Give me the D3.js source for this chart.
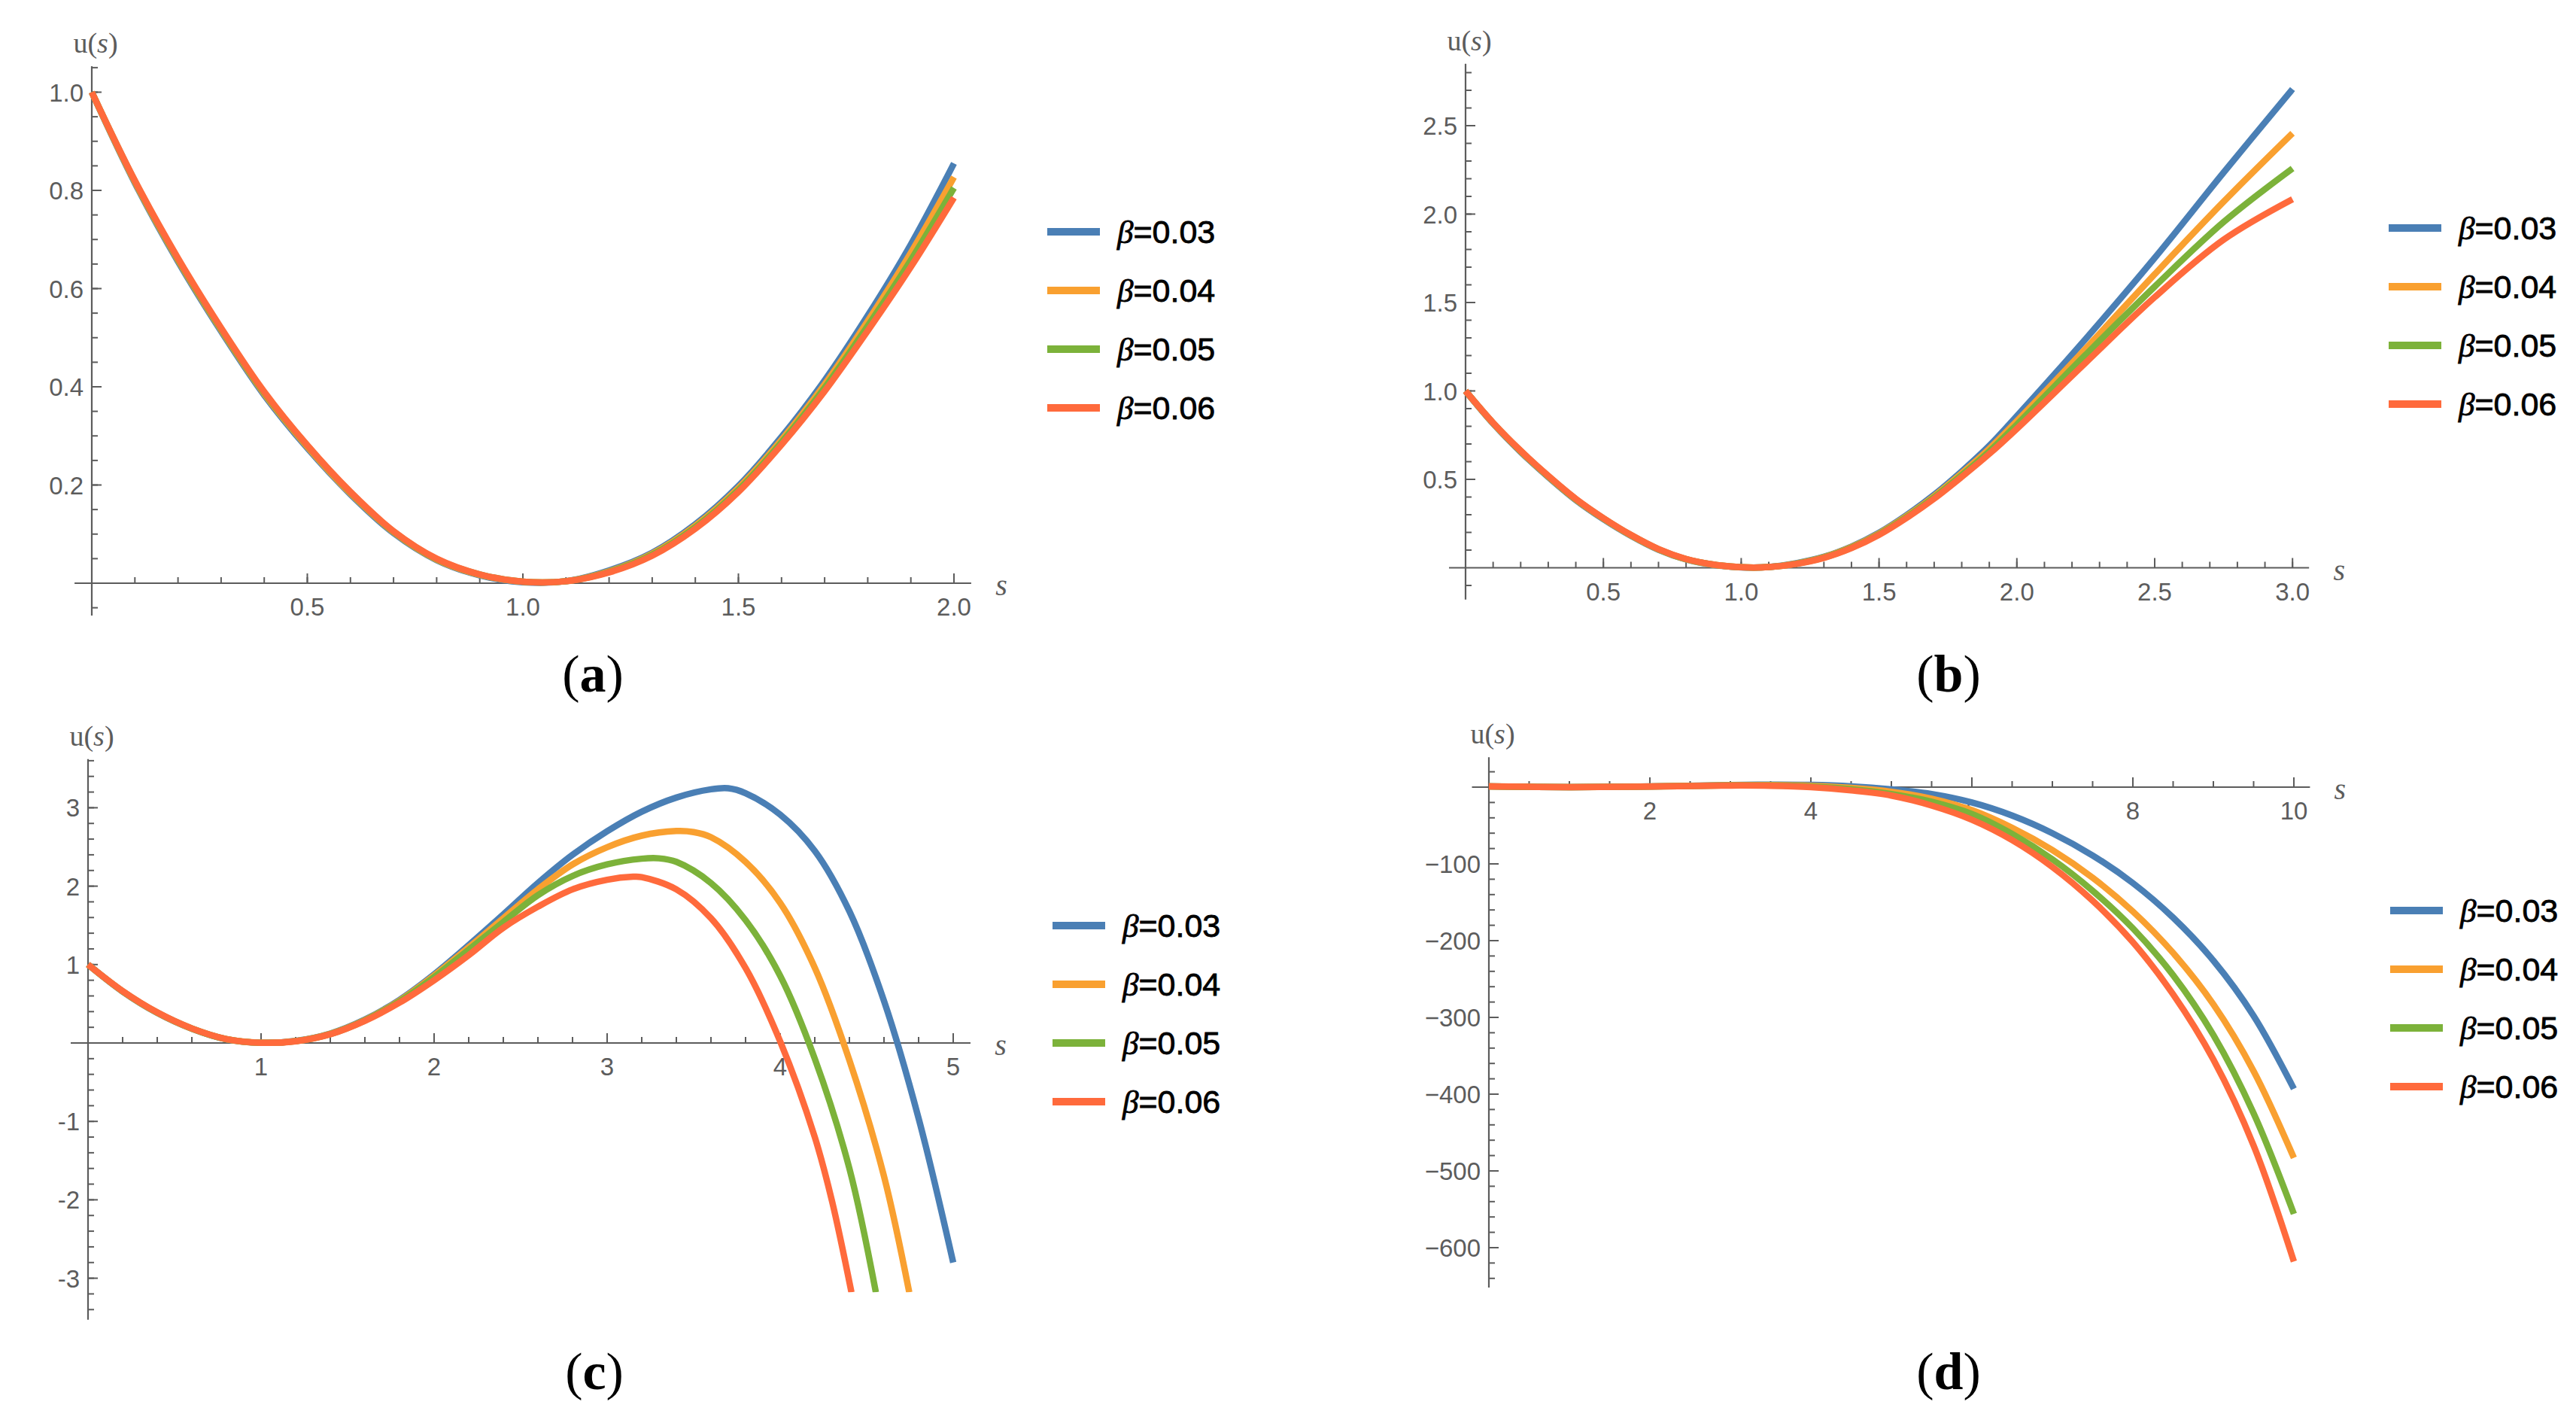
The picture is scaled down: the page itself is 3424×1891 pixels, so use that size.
<!DOCTYPE html>
<html>
<head>
<meta charset="utf-8">
<script src="https://cdn.jsdelivr.net/npm/d3@7"></script>
<style>
  body { margin: 0; background: #fff; }
  svg { display: block; }
</style>
</head>
<body>
<script>
// legend entries and colours (blue, orange, green, red)
var betas = ['0.03', '0.04', '0.05', '0.06'];
var colors = ['#4a7fb5', '#f9a030', '#7cb23a', '#ff6a3c'];

// ---- panel (a), s from 0 to 2
var sA = [0, 0.1, 0.2, 0.3, 0.4, 0.5, 0.6, 0.7, 0.8, 0.9, 1.0, 1.1, 1.2, 1.3, 1.4, 1.5, 1.6, 1.7, 1.8, 1.9, 2.0];
var aBlue   = [1.0, 0.815, 0.655, 0.513, 0.383, 0.275, 0.181, 0.102, 0.047, 0.016, 0.002, 0.004, 0.026, 0.062, 0.120, 0.198, 0.298, 0.413, 0.545, 0.690, 0.855];
var aOrange = [1.0, 0.817, 0.658, 0.516, 0.386, 0.278, 0.183, 0.104, 0.048, 0.017, 0.003, 0.004, 0.024, 0.060, 0.117, 0.194, 0.292, 0.405, 0.534, 0.673, 0.827];
var aGreen  = [1.0, 0.819, 0.660, 0.518, 0.388, 0.280, 0.185, 0.105, 0.049, 0.018, 0.003, 0.004, 0.023, 0.058, 0.114, 0.190, 0.287, 0.398, 0.524, 0.658, 0.805];
var aRed    = [1.0, 0.820, 0.662, 0.520, 0.390, 0.281, 0.186, 0.106, 0.050, 0.018, 0.003, 0.004, 0.022, 0.056, 0.111, 0.186, 0.282, 0.391, 0.514, 0.644, 0.785];
var aTicksX = [0.5, 1.0, 1.5, 2.0];
var aTicksY = [0.2, 0.4, 0.6, 0.8, 1.0];

// ---- panel (b), s from 0 to 3
var sB = [0, 0.1, 0.2, 0.3, 0.4, 0.5, 0.6, 0.7, 0.8, 0.9, 1.0, 1.1, 1.2, 1.3, 1.4, 1.5, 1.6, 1.7, 1.8, 1.9, 2.0, 2.25, 2.5, 2.75, 3.0];
var bBlue   = [1.0, 0.815, 0.655, 0.513, 0.383, 0.275, 0.181, 0.102, 0.047, 0.016, 0.002, 0.004, 0.026, 0.062, 0.120, 0.198, 0.298, 0.413, 0.545, 0.690, 0.858, 1.295, 1.752, 2.235, 2.707];
var bOrange = [1.0, 0.817, 0.658, 0.516, 0.386, 0.278, 0.183, 0.104, 0.048, 0.017, 0.003, 0.004, 0.024, 0.060, 0.117, 0.194, 0.292, 0.405, 0.534, 0.673, 0.830, 1.240, 1.660, 2.070, 2.457];
var bGreen  = [1.0, 0.819, 0.660, 0.518, 0.388, 0.280, 0.185, 0.105, 0.049, 0.018, 0.003, 0.004, 0.023, 0.058, 0.114, 0.190, 0.287, 0.398, 0.524, 0.658, 0.810, 1.205, 1.590, 1.955, 2.258];
var bRed    = [1.0, 0.820, 0.662, 0.520, 0.390, 0.281, 0.186, 0.106, 0.050, 0.018, 0.003, 0.004, 0.022, 0.056, 0.111, 0.186, 0.282, 0.391, 0.514, 0.644, 0.786, 1.160, 1.530, 1.855, 2.084];
var bTicksX = [0.5, 1.0, 1.5, 2.0, 2.5, 3.0];
var bTicksY = [0.5, 1.0, 1.5, 2.0, 2.5];

// ---- panel (c), [s, u]; the lower three stop where the plot range cuts them
var cBlue = [[0,1],[0.2,0.655],[0.4,0.383],[0.6,0.181],[0.8,0.047],[1.0,0.002],[1.2,0.026],[1.4,0.12],[1.6,0.298],[1.8,0.55],
  [2.0,0.875],[2.2,1.249],[2.4,1.64],[2.6,2.04],[2.8,2.40],[3.0,2.70],[3.2,2.95],[3.4,3.13],[3.6,3.235],[3.7,3.248],
  [3.8,3.185],[4.0,2.913],[4.2,2.45],[4.4,1.68],[4.6,0.536],[4.8,-0.96],[5.0,-2.8]];
var cOrange = [[0,1],[0.2,0.658],[0.4,0.386],[0.6,0.183],[0.8,0.048],[1.0,0.003],[1.2,0.024],[1.4,0.117],[1.6,0.292],[1.8,0.54],
  [2.0,0.86],[2.2,1.22],[2.4,1.591],[2.6,1.959],[2.8,2.277],[3.0,2.497],[3.2,2.644],[3.4,2.703],[3.5,2.69],[3.6,2.625],
  [3.8,2.31],[4.0,1.787],[4.2,0.96],[4.4,-0.22],[4.6,-1.7],[4.746,-3.18]];
var cGreen = [[0,1],[0.2,0.66],[0.4,0.388],[0.6,0.185],[0.8,0.049],[1.0,0.003],[1.2,0.023],[1.4,0.114],[1.6,0.287],[1.8,0.53],
  [2.0,0.84],[2.2,1.19],[2.4,1.542],[2.6,1.885],[2.8,2.13],[3.0,2.277],[3.2,2.35],[3.3,2.355],[3.4,2.31],[3.6,2.04],
  [3.8,1.567],[4.0,0.857],[4.2,-0.2],[4.4,-1.6],[4.553,-3.18]];
var cRed = [[0,1],[0.2,0.662],[0.4,0.39],[0.6,0.186],[0.8,0.05],[1.0,0.003],[1.2,0.022],[1.4,0.111],[1.6,0.282],[1.8,0.514],
  [2.0,0.8],[2.2,1.12],[2.4,1.469],[2.6,1.738],[2.8,1.959],[3.0,2.081],[3.15,2.12],[3.2,2.115],[3.4,1.959],[3.6,1.591],
  [3.8,0.955],[4.0,0.02],[4.2,-1.2],[4.3,-2.02],[4.412,-3.18]];
var cTicksX = [1, 2, 3, 4, 5];
var cTicksY = [-3, -2, -1, 1, 2, 3];

// ---- panel (d), s from 0 to 10
var sD = [0, 1, 2, 3, 3.5, 4, 4.5, 5, 5.5, 6, 6.5, 7, 7.5, 8, 8.5, 9, 9.5, 10];
var dBlue   = [1, 0, 0.88, 2.72, 3.2, 2.91, 1.1, -2.8, -9, -20, -37, -60, -89, -125, -170, -226, -298, -393];
var dOrange = [1, 0, 0.86, 2.5, 2.7, 1.79, -0.95, -6, -15, -30, -53, -82, -118, -162, -216, -283, -370, -483];
var dGreen  = [1, 0, 0.84, 2.28, 2.18, 0.86, -2.6, -9, -19, -35, -61, -94, -135, -184, -245, -323, -425, -556];
var dRed    = [1, 0, 0.8, 2.08, 1.8, 0.05, -4.3, -11, -24, -42.5, -69, -104, -148, -202, -270, -355, -467, -618];
var dTicksX = [2, 4, 6, 8, 10];
var dTicksY = [-600, -500, -400, -300, -200, -100];

function pairs(s, u) { return s.map(function (v, i) { return [v, u[i]]; }); }

var W = 3424, H = 1891;
var axisColor = '#5c5c5c';
var sans = '"Liberation Sans", Arial, sans-serif';
var serif = '"Liberation Serif", "Times New Roman", serif';

var panels = [
  { tag: 'a', series: [pairs(sA, aBlue), pairs(sA, aOrange), pairs(sA, aGreen), pairs(sA, aRed)],
    ox: 122, oy: 775, kx: 573, ky: 652.5, xExt: [-0.04, 2.04], yExt: [-0.066, 1.053],
    xTicks: aTicksX, xMinor: 0.1, yTicks: aTicksY, yMinor: 0.05,
    fx: d3.format('.1f'), fy: d3.format('.1f'), legend: [1392, 308], label: [788, 919] },
  { tag: 'b', series: [pairs(sB, bBlue), pairs(sB, bOrange), pairs(sB, bGreen), pairs(sB, bRed)],
    ox: 1948, oy: 754.5, kx: 366.4, ky: 235, xExt: [-0.06, 3.06], yExt: [-0.18, 2.85],
    xTicks: bTicksX, xMinor: 0.1, yTicks: bTicksY, yMinor: 0.1,
    fx: d3.format('.1f'), fy: d3.format('.1f'), legend: [3175, 303], label: [2590, 919] },
  { tag: 'c', series: [cBlue, cOrange, cGreen, cRed],
    ox: 117, oy: 1386, kx: 230, ky: 104.2, xExt: [-0.1, 5.1], yExt: [-3.53, 3.62], clipMin: -3.18,
    xTicks: cTicksX, xMinor: 0.2, yTicks: cTicksY, yMinor: 0.2,
    fx: String, fy: String, legend: [1399, 1230], label: [790, 1846] },
  { tag: 'd', series: [pairs(sD, dBlue), pairs(sD, dOrange), pairs(sD, dGreen), pairs(sD, dRed)],
    ox: 1979, oy: 1046, kx: 107, ky: 1.02, xExt: [-0.21, 10.2], yExt: [-652, 39],
    xTicks: dTicksX, xMinor: 0.5, yTicks: dTicksY, yMinor: 20,
    fx: String, fy: function (v) { return String(v).replace('-', '\u2212'); }, legend: [3177, 1210], label: [2590, 1846] }
];

var svg = d3.select('body').append('svg')
  .attr('width', W).attr('height', H)
  .attr('viewBox', '0 0 ' + W + ' ' + H);

svg.append('rect').attr('width', W).attr('height', H).attr('fill', '#fff');

// multiples of step that fall inside [lo, hi], zero left out
function steps(lo, hi, step) {
  var out = [];
  for (var i = Math.ceil(lo / step - 1e-9); i <= Math.floor(hi / step + 1e-9); i++) {
    if (i !== 0) out.push(+(i * step).toFixed(6));
  }
  return out;
}

panels.forEach(function (p) {
  var x = d3.scaleLinear().domain(p.xExt).range([p.ox + p.kx * p.xExt[0], p.ox + p.kx * p.xExt[1]]);
  var y = d3.scaleLinear().domain(p.yExt).range([p.oy - p.ky * p.yExt[0], p.oy - p.ky * p.yExt[1]]);
  var g = svg.append('g');

  // axes lines
  g.append('line')
    .attr('x1', x(p.xExt[0])).attr('x2', x(p.xExt[1]))
    .attr('y1', y(0)).attr('y2', y(0))
    .attr('stroke', axisColor).attr('stroke-width', 2.2);
  g.append('line')
    .attr('x1', x(0)).attr('x2', x(0))
    .attr('y1', y(p.yExt[0])).attr('y2', y(p.yExt[1]))
    .attr('stroke', axisColor).attr('stroke-width', 2.2);

  // minor + major ticks, x ticks point up, y ticks point right
  g.selectAll('.xminor').data(steps(p.xExt[0], p.xExt[1], p.xMinor)).enter().append('line')
    .attr('x1', function (d) { return x(d); }).attr('x2', function (d) { return x(d); })
    .attr('y1', y(0)).attr('y2', y(0) - 8)
    .attr('stroke', axisColor).attr('stroke-width', 2);
  g.selectAll('.xmajor').data(p.xTicks).enter().append('line')
    .attr('x1', function (d) { return x(d); }).attr('x2', function (d) { return x(d); })
    .attr('y1', y(0)).attr('y2', y(0) - 13)
    .attr('stroke', axisColor).attr('stroke-width', 2);
  g.selectAll('.yminor').data(steps(p.yExt[0], p.yExt[1], p.yMinor)).enter().append('line')
    .attr('x1', x(0)).attr('x2', x(0) + 8)
    .attr('y1', function (d) { return y(d); }).attr('y2', function (d) { return y(d); })
    .attr('stroke', axisColor).attr('stroke-width', 2);
  g.selectAll('.ymajor').data(p.yTicks).enter().append('line')
    .attr('x1', x(0)).attr('x2', x(0) + 13)
    .attr('y1', function (d) { return y(d); }).attr('y2', function (d) { return y(d); })
    .attr('stroke', axisColor).attr('stroke-width', 2);

  // tick labels
  g.selectAll('.xlab').data(p.xTicks).enter().append('text')
    .attr('x', function (d) { return x(d); })
    .attr('y', y(0) + 43)
    .attr('text-anchor', 'middle')
    .attr('font-family', sans).attr('font-size', 33).attr('fill', axisColor)
    .text(p.fx);
  g.selectAll('.ylab').data(p.yTicks).enter().append('text')
    .attr('x', x(0) - 11)
    .attr('y', function (d) { return y(d) + 12; })
    .attr('text-anchor', 'end')
    .attr('font-family', sans).attr('font-size', 33).attr('fill', axisColor)
    .text(p.fy);

  // axis labels
  var ul = g.append('text')
    .attr('x', x(0) + 5).attr('y', y(p.yExt[1]) - 18)
    .attr('text-anchor', 'middle')
    .attr('font-family', serif).attr('font-size', 38).attr('fill', axisColor);
  ul.append('tspan').text('u(');
  ul.append('tspan').attr('font-style', 'italic').text('s');
  ul.append('tspan').text(')');
  g.append('text')
    .attr('x', x(p.xExt[1]) + 40).attr('y', y(0) + 16)
    .attr('text-anchor', 'middle')
    .attr('font-family', serif).attr('font-style', 'italic')
    .attr('font-size', 40).attr('fill', axisColor)
    .text('s');

  // curves, clipped to the plot range
  var clipId = 'clip-' + p.tag;
  var yLow = p.clipMin !== undefined ? p.clipMin : p.yExt[0];
  svg.append('clipPath').attr('id', clipId).append('rect')
    .attr('x', x(p.xExt[0])).attr('y', y(p.yExt[1]))
    .attr('width', x(p.xExt[1]) - x(p.xExt[0]))
    .attr('height', y(yLow) - y(p.yExt[1]));

  var line = d3.line()
    .x(function (d) { return x(d[0]); })
    .y(function (d) { return y(d[1]); })
    .curve(d3.curveCatmullRom.alpha(0.5));

  g.append('g').attr('clip-path', 'url(#' + clipId + ')')
    .selectAll('path').data(p.series).enter().append('path')
    .attr('d', line)
    .attr('fill', 'none')
    .attr('stroke', function (d, i) { return colors[i]; })
    .attr('stroke-width', 8.5)
    .attr('stroke-linejoin', 'round');

  // legend
  var lg = g.append('g');
  betas.forEach(function (b, i) {
    var ly = p.legend[1] + i * 78;
    lg.append('line')
      .attr('x1', p.legend[0]).attr('x2', p.legend[0] + 70)
      .attr('y1', ly).attr('y2', ly)
      .attr('stroke', colors[i]).attr('stroke-width', 10);
    var t = lg.append('text')
      .attr('x', p.legend[0] + 93).attr('y', ly + 15)
      .attr('font-size', 43).attr('fill', '#000')
      .attr('stroke', '#000').attr('stroke-width', 0.8);
    t.append('tspan').attr('font-family', serif).attr('font-style', 'italic').text('\u03b2');
    t.append('tspan').attr('font-family', sans).text('=' + b);
  });

  // panel tag
  var tg = g.append('text')
    .attr('x', p.label[0]).attr('y', p.label[1])
    .attr('text-anchor', 'middle')
    .attr('font-family', serif).attr('font-size', 70).attr('fill', '#000');
  tg.append('tspan').text('(');
  tg.append('tspan').attr('font-weight', 'bold').text(p.tag);
  tg.append('tspan').text(')');
});
</script>
</body>
</html>
